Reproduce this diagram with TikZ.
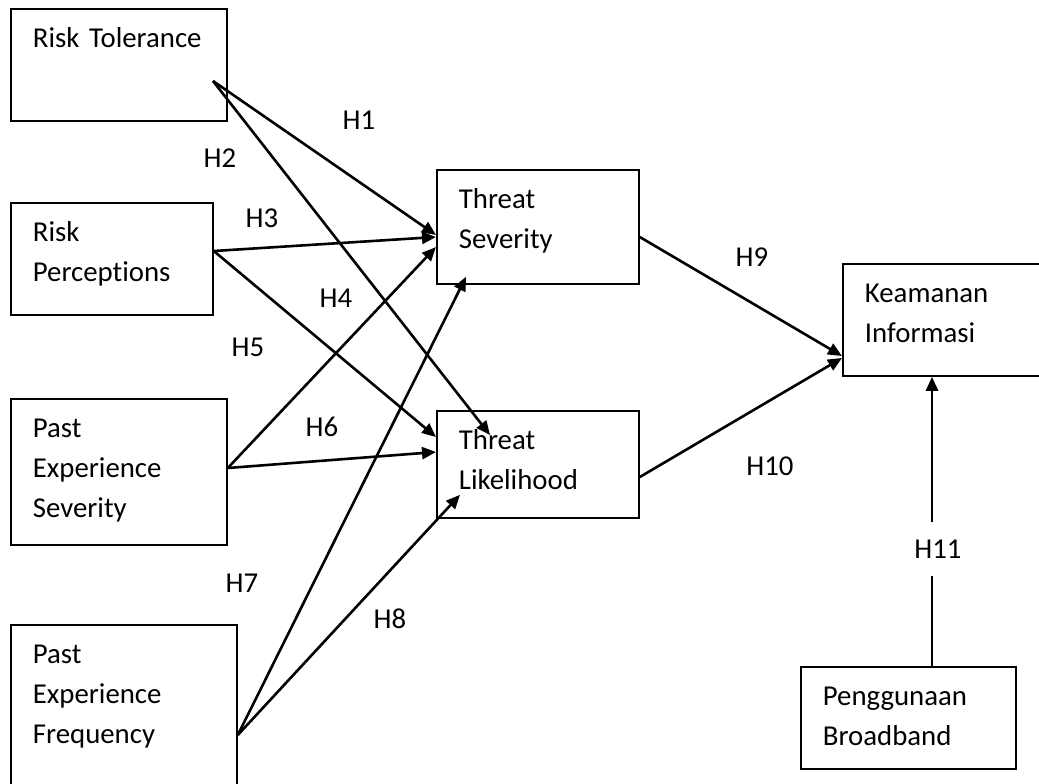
\documentclass[tikz,border=0pt]{standalone}
\usepackage{fontspec}
\setmainfont{Carlito}[Ligatures={NoCommon,NoRare}]
\usepackage{xcolor}
\usetikzlibrary{arrows.meta}
\tikzstyle{hypo}=[font=\fontsize{14.4}{20}\selectfont, inner sep=1pt]
\tikzset{box/.style args={#1,#2}{draw, line width=.9pt, rectangle, anchor=north west,
    align=left, inner xsep=11pt, inner ysep=0pt, text width=#1,
    text height=19.5pt, text depth=#2, font=\fontsize{14.4}{20}\selectfont}}
\tikzset{path/.style={-{Triangle[length=7pt,width=6pt]}, line width=1.3pt}}

\begin{document}
\begin{tikzpicture}[x=0.5pt,y=-0.5pt]
  \useasboundingbox (0,0) rectangle (1039,783);
  \draw (10,8) node[box={86pt,36.5pt}] (tol) {Risk Tolerance};
  \draw (10,202) node[box={79pt,36.5pt}] (perc) {Risk\\Perceptions};
  \draw (10,398) node[box={86pt,53.5pt}] (sev) {Past\\Experience\\Severity};
  \draw (10,624) node[box={91pt,65.5pt}] (freq) {Past\\Experience\\Frequency};

  \draw (436,169) node[box={79pt,37.5pt}] (ts) {Threat\\Severity};
  \draw (436,410) node[box={79pt,34pt}] (tl) {Threat\\Likelihood};

  \draw (842,263) node[box={80pt,36.5pt}] (ki) {Keamanan\\Informasi};
  \draw (800,666) node[box={85.5pt,31.5pt}] (pb) {Penggunaan\\Broadband};

  %% hypotheses
  \draw[path] ([shift={(203,73)}]tol.north west) -- ([shift={(0,66)}]ts.north west);
  \draw[path] ([shift={(203,73)}]tol.north west) -- ([shift={(54,25)}]tl.north west);
  \draw[path] ([shift={(0,49)}]perc.north east) -- ([shift={(0,68)}]ts.north west);
  \draw[path] ([shift={(0,49)}]perc.north east) -- ([shift={(0,27)}]tl.north west);
  \draw[path] ([shift={(0,70)}]sev.north east) -- ([shift={(0,78)}]ts.north west);
  \draw[path] ([shift={(0,70)}]sev.north east) -- ([shift={(0,42)}]tl.north west);
  \draw[path] ([shift={(0,111)}]freq.north east) -- ([shift={(30,-8)}]ts.south west);
  \draw[path] ([shift={(0,111)}]freq.north east) -- ([shift={(24,-24)}]tl.south west);

  \draw[path] ([shift={(0,68)}]ts.north east) -- ([shift={(0,93)}]ki.north west);
  \draw[path] ([shift={(0,67)}]tl.north east) -- ([shift={(0,95)}]ki.north west);
  \draw[path] ([shift={(132,0)}]pb.north west) -- ([shift={(90,0)}]ki.south west);

  %% labels
  \draw (359,120) node[hypo] (h1) {H1};
  \draw (220,158) node[hypo] (h2) {H2};
  \draw (262,218) node[hypo] (h3) {H3};
  \draw (336,298) node[hypo] (h4) {H4};
  \draw (248,347) node[hypo] (h5) {H5};
  \draw (322,427) node[hypo] (h6) {H6};
  \draw (242,583) node[hypo] (h7) {H7};
  \draw (390,619) node[hypo] (h8) {H8};
  \draw (752,257) node[hypo] (h9) {H9};
  \draw (770,466) node[hypo] (h10) {H10};
  \draw (938,549) node[hypo, fill=white, inner ysep=9pt] (h11) {H11};
\end{tikzpicture}
\end{document}
